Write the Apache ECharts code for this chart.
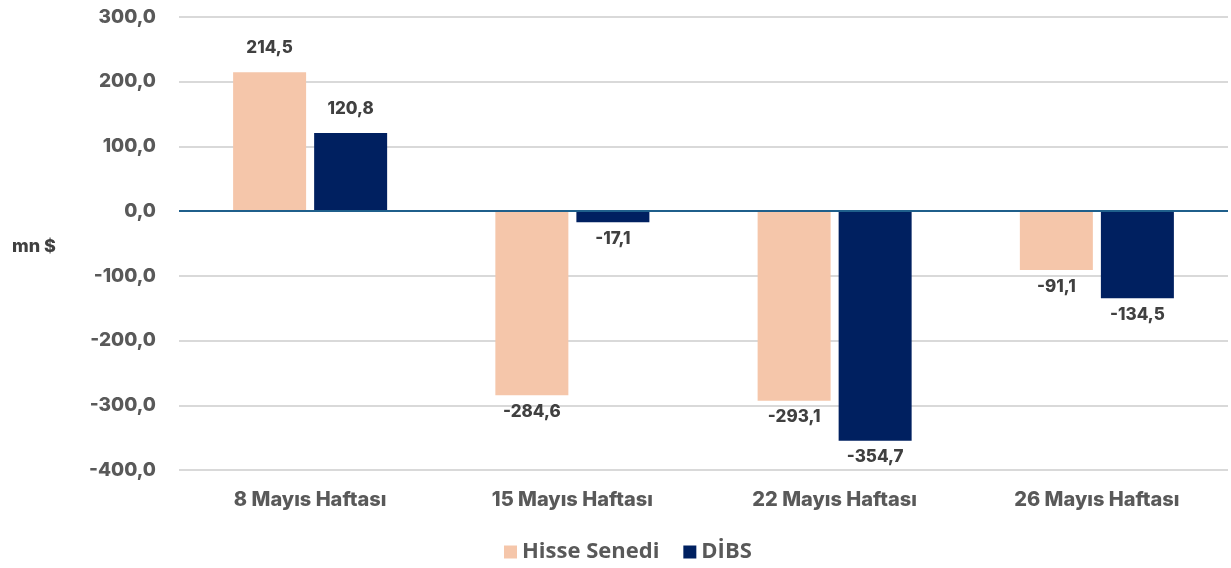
<!DOCTYPE html>
<html><head><meta charset="utf-8">
<script src="https://cdn.jsdelivr.net/npm/echarts@6/dist/echarts.min.js"></script>
<style>html,body{margin:0;padding:0;background:#fff}#c{width:1231px;height:568px}</style>
</head><body><div id="c"></div>
<script>
const categories = ['8 Mayıs Haftası', '15 Mayıs Haftası', '22 Mayıs Haftası', '26 Mayıs Haftası'];
const hisseSenedi = [214.5, -284.6, -293.1, -91.1];
const dibs = [120.8, -17.1, -354.7, -134.5];
const seriesNames = ['Hisse Senedi', 'DİBS'];
const yAxisTitle = 'mn $';

const fmt = v => v.toFixed(1).replace('.', ',');
function mk(vals){
  return vals.map(v => ({value: v, label: {position: v >= 0 ? 'top' : 'bottom', distance: v >= 0 ? 16 : 8}}));
}
const FONT = 'Inter, Roboto, Arial, sans-serif';
const chart = echarts.init(document.getElementById('c'));
const labelStyle = {show: true, formatter: p => fmt(p.value), color: '#404040', fontWeight: 800, fontSize: 17, fontFamily: FONT};
chart.setOption({
  animation: false,
  grid: {left: 179, right: 3, top: 17, bottom: 98},
  legend: {
    bottom: 0, left: 499, itemWidth: 13, itemHeight: 13, itemGap: 24,
    icon: 'rect',
    textStyle: {color: '#595959', fontSize: 22, fontWeight: 'bold', fontFamily: '"Open Sans", sans-serif'},
    data: seriesNames
  },
  graphic: [{type: 'text', left: 12, top: 238, style: {text: yAxisTitle, fill: '#404040', font: '800 18px Inter, Roboto, Arial, sans-serif'}}],
  xAxis: {
    type: 'category', data: categories,
    axisLine: {show: false}, axisTick: {show: false},
    axisLabel: {color: '#595959', fontWeight: 800, fontSize: 20, margin: 20, fontFamily: FONT}
  },
  yAxis: {
    type: 'value', min: -400, max: 300, interval: 100,
    axisLabel: {formatter: v => fmt(v), color: '#595959', fontWeight: 800, fontSize: 19, margin: 23, fontFamily: FONT},
    splitLine: {lineStyle: {color: '#d9d9d9', width: 2}},
    axisLine: {show: false}, axisTick: {show: false}
  },
  series: [
    {name: seriesNames[0], type: 'bar', data: mk(hisseSenedi), barWidth: 73, barGap: '11%', itemStyle: {color: '#F5C6AA'}, label: labelStyle,
     markLine: {silent: true, symbol: 'none', label: {show: false}, lineStyle: {color: '#1f5f8b', width: 2, type: 'solid'}, data: [{yAxis: 0}]}},
    {name: seriesNames[1], type: 'bar', data: mk(dibs), barWidth: 73, itemStyle: {color: '#002060'}, label: labelStyle}
  ]
});
</script></body></html>
